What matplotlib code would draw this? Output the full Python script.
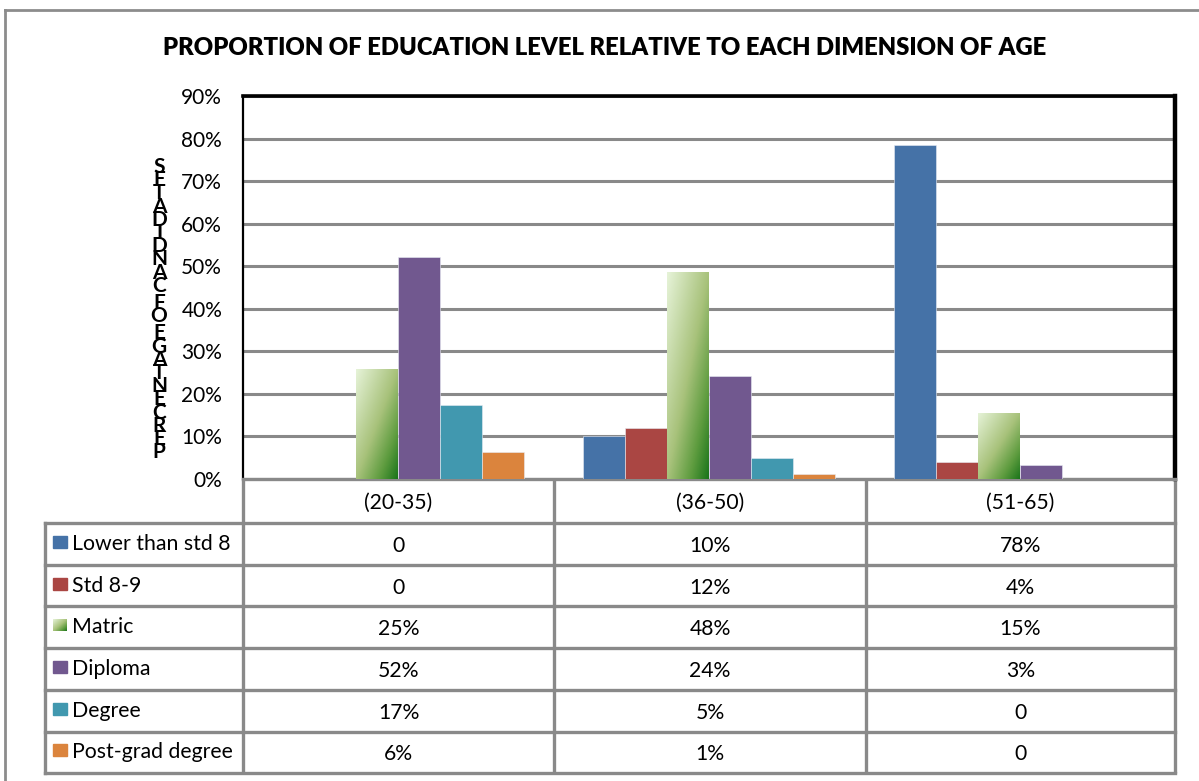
import numpy as np
import matplotlib
matplotlib.use('Agg')
import matplotlib.pyplot as plt
from matplotlib.colors import LinearSegmentedColormap
from matplotlib.patches import Rectangle

plt.rcParams['font.family'] = ['Lato', 'DejaVu Sans']

ages = ['(20-35)', '(36-50)', '(51-65)']
levels = ['Lower than std 8', 'Std 8-9', 'Matric', 'Diploma', 'Degree', 'Post-grad degree']

# bar heights (%)
lower = [0, 10.2, 78.4]
std89 = [0, 12.1, 4.1]
matric = [25.8, 48.6, 15.6]
diploma = [52.1, 24.3, 3.3]
degree = [17.4, 5.0, 0]
postgrad = [6.3, 1.1, 0]

# what the data table prints
lower_lbl = ['0', '10%', '78%']
std89_lbl = ['0', '12%', '4%']
matric_lbl = ['25%', '48%', '15%']
diploma_lbl = ['52%', '24%', '3%']
degree_lbl = ['17%', '5%', '0']
postgrad_lbl = ['6%', '1%', '0']

yticks = [0, 10, 20, 30, 40, 50, 60, 70, 80, 90]
ylabel = 'PERCENTAGE OF CANDIDATES'

series = [lower, std89, matric, diploma, degree, postgrad]
labels = [lower_lbl, std89_lbl, matric_lbl, diploma_lbl, degree_lbl, postgrad_lbl]
colors = ['#4572A7', '#AA4643', '#A7C27A', '#71588F', '#4198AF', '#DB843D']
grid_c = '#898989'

green = LinearSegmentedColormap.from_list(
    'matric', [(0, '#E6F3D8'), (0.5, '#A8C27B'), (0.78, '#5E9C3F'), (1, '#1B751B')])
gy, gx = np.mgrid[0:1:100j, 0:1:60j]
grad = 0.5 * gx + 0.5 * gy   # light top-left, dark bottom-right

W, H = 1199, 781
fig = plt.figure(figsize=(W / 100, H / 100), dpi=100)

# pixel layout
ax_l, ax_r, ax_t, ax_b = 243, 1175, 96, 479
ax = fig.add_axes([ax_l / W, 1 - ax_b / H, (ax_r - ax_l) / W, (ax_b - ax_t) / H])
ax.set_zorder(2)

bw = 0.135
for j, vals in enumerate(series):
    xs = np.arange(len(ages)) + 0.5 + (j - 2.5) * bw
    if levels[j] == 'Matric':
        bars = ax.bar(xs, vals, bw, color='none', edgecolor='none', zorder=3)
        for b in bars:
            im = ax.imshow(grad, extent=[b.get_x(), b.get_x() + bw, 0, b.get_height()],
                           aspect='auto', cmap=green, origin='upper', zorder=3)
            im.set_clip_path(b)
    else:
        ax.bar(xs, vals, bw, color=colors[j], edgecolor='#E8ECF4', linewidth=0.4, zorder=3)

ax.set_xlim(0, len(ages))
ax.set_ylim(0, 90)
ax.set_yticks(yticks)
ax.set_yticklabels([f'{t}%' for t in yticks], fontsize=15)
ax.set_xticks([])
ax.yaxis.grid(True, color=grid_c, linewidth=2.2, zorder=0)
ax.set_axisbelow(True)
ax.tick_params(axis='y', length=0, pad=15)
for s in ['top', 'right', 'left']:
    ax.spines[s].set_color('black')
ax.spines['top'].set_linewidth(2.6)
ax.spines['right'].set_linewidth(3.2)
ax.spines['left'].set_linewidth(1.6)
ax.spines['bottom'].set_color(grid_c)
ax.spines['bottom'].set_linewidth(2.4)

# overlay in pixel coordinates for title, axis label and the data table
ov = fig.add_axes([0, 0, 1, 1])
ov.set_xlim(0, W)
ov.set_ylim(H, 0)
ov.axis('off')
ov.set_zorder(1)

ov.plot([5, 5], [10, H], color='#8C8C8C', lw=2)
ov.plot([5, W], [10, 10], color='#8C8C8C', lw=2)

ov.text(605, 48, 'PROPORTION OF EDUCATION LEVEL RELATIVE TO EACH DIMENSION OF AGE',
        ha='center', va='center', fontsize=17.2, fontweight='heavy')

# stacked, reversed axis title as in the original
y = 167
for ch in ylabel[::-1]:
    if ch == ' ':
        y += 4
        continue
    ov.text(159, y, ch, ha='center', va='center', fontsize=15, fontweight='bold')
    y += 13.2

cols = [ax_l, 554, 866, ax_r]
rows = [523 + 41.7 * k for k in range(7)]
tab_l = 45
lw_t = 2.4
for x in cols:
    ov.plot([x, x], [ax_b, rows[-1]], color=grid_c, lw=lw_t, solid_capstyle='butt')
ov.plot([tab_l, tab_l], [rows[0], rows[-1]], color=grid_c, lw=lw_t)
for yy in rows:
    ov.plot([tab_l, ax_r], [yy, yy], color=grid_c, lw=lw_t)

for i, a in enumerate(ages):
    ov.text((cols[i] + cols[i + 1]) / 2, (ax_b + rows[0]) / 2 + 2, a,
            ha='center', va='center', fontsize=15.2)

for j, lvl in enumerate(levels):
    yc = (rows[j] + rows[j + 1]) / 2
    if lvl == 'Matric':
        ov.imshow(grad, extent=[53, 67, yc + 4, yc - 8], aspect='auto', cmap=green,
                  origin='upper', zorder=3)
    else:
        ov.add_patch(Rectangle((53, yc - 8), 14, 12, color=colors[j], zorder=3))
    ov.text(72, yc, lvl, ha='left', va='center', fontsize=15.3)
    for i in range(len(ages)):
        ov.text((cols[i] + cols[i + 1]) / 2, yc + 2, labels[j][i],
                ha='center', va='center', fontsize=15.2)

ov.set_xlim(0, W)
ov.set_ylim(H, 0)

fig.savefig('out.png', dpi=100)
